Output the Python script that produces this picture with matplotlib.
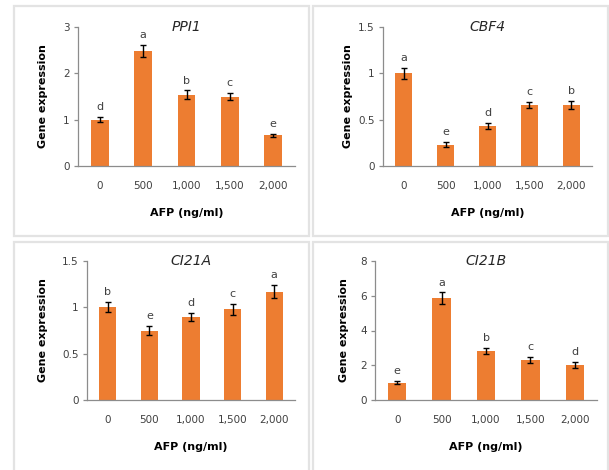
import matplotlib
matplotlib.use("Agg")
import matplotlib.pyplot as plt
from matplotlib.patches import Rectangle

W, H = 609, 470
categories = ["0", "500", "1,000", "1,500", "2,000"]
xlabel = "AFP (ng/ml)"
ylabel = "Gene expression"

titles = ["PPI1", "CBF4", "CI21A", "CI21B"]
values = {
    "PPI1": [1.00, 2.48, 1.54, 1.50, 0.66],
    "CBF4": [1.00, 0.23, 0.43, 0.66, 0.66],
    "CI21A": [1.00, 0.75, 0.90, 0.98, 1.17],
    "CI21B": [1.00, 5.85, 2.84, 2.28, 2.02],
}
errors = {
    "PPI1": [0.06, 0.13, 0.09, 0.08, 0.03],
    "CBF4": [0.06, 0.027, 0.03, 0.036, 0.04],
    "CI21A": [0.054, 0.045, 0.043, 0.06, 0.07],
    "CI21B": [0.08, 0.34, 0.18, 0.17, 0.17],
}
letters = {
    "PPI1": ["d", "a", "b", "c", "e"],
    "CBF4": ["a", "e", "d", "c", "b"],
    "CI21A": ["b", "e", "d", "c", "a"],
    "CI21B": ["e", "a", "b", "c", "d"],
}
yticks = {
    "PPI1": [0, 1, 2, 3],
    "CBF4": [0, 0.5, 1, 1.5],
    "CI21A": [0, 0.5, 1, 1.5],
    "CI21B": [0, 2, 4, 6, 8],
}
ytick_labels = {
    "PPI1": ["0", "1", "2", "3"],
    "CBF4": ["0", "0.5", "1", "1.5"],
    "CI21A": ["0", "0.5", "1", "1.5"],
    "CI21B": ["0", "2", "4", "6", "8"],
}

# axes boxes in pixels: left, right, top, bottom
axes_px = {
    "PPI1": (78, 295, 27, 166),
    "CBF4": (383, 592, 27, 166),
    "CI21A": (87, 295, 261, 400),
    "CI21B": (375, 597, 261, 400),
}
ylabel_x = {"PPI1": 43, "CBF4": 348, "CI21A": 43, "CI21B": 344}
# panel borders: left, right, top, bottom
panels_px = [(14, 309, 6, 236), (313, 608, 6, 236), (14, 309, 242, 472), (313, 608, 242, 472)]

bar_color = "#ED7D31"
axis_color = "#8C8C8C"
text_color = "#404040"
font = "DejaVu Sans"

fig = plt.figure(figsize=(W / 100, H / 100), dpi=100)
fig.patch.set_facecolor("white")

for (l, r, t, b) in panels_px:
    fig.add_artist(Rectangle((l / W, 1 - b / H), (r - l) / W, (b - t) / H,
                             transform=fig.transFigure, fill=False,
                             edgecolor="#E3E3E3", linewidth=1.6, clip_on=False))

for name in titles:
    l, r, t, b = axes_px[name]
    ax = fig.add_axes([l / W, 1 - b / H, (r - l) / W, (b - t) / H])
    x = list(range(len(categories)))
    vals = values[name]
    errs = errors[name]
    ax.bar(x, vals, width=0.41, color=bar_color, zorder=2)
    ax.errorbar(x, vals, yerr=errs, fmt="none", ecolor="black", elinewidth=1,
                capsize=2.2, capthick=1, zorder=3)
    for xi, v, e, lt in zip(x, vals, errs, letters[name]):
        ax.annotate(lt, (xi, v + e), xytext=(0, 5), textcoords="offset points",
                    ha="center", va="baseline", fontsize=8, color=text_color,
                    family=font)
    ax.set_xlim(-0.5, len(categories) - 0.5)
    ax.set_ylim(yticks[name][0], yticks[name][-1])
    ax.set_yticks(yticks[name])
    ax.set_yticklabels(ytick_labels[name], fontsize=7.5, color=text_color, family=font)
    ax.set_xticks(x)
    ax.set_xticklabels(categories, fontsize=7.5, color=text_color, family=font)
    ax.tick_params(axis="x", length=0, pad=11)
    ax.tick_params(axis="y", length=3, width=0.9, color=axis_color, pad=3)
    for s in ["top", "right"]:
        ax.spines[s].set_visible(False)
    for s in ["left", "bottom"]:
        ax.spines[s].set_color(axis_color)
        ax.spines[s].set_linewidth(0.9)
    ax.set_facecolor("none")
    ax.set_xlabel(xlabel, fontsize=8, fontweight="bold", color="black",
                  family=font, labelpad=12)
    ax.text(0.5, 1.0, name, transform=ax.transAxes, ha="center", va="center",
            fontsize=10, fontstyle="italic", color="#262626", family=font)
    fig.text(ylabel_x[name] / W, 1 - ((t + b) / 2) / H, ylabel, rotation=90,
             ha="center", va="center", fontsize=8, fontweight="bold",
             color="black", family=font)

fig.savefig("out.png", dpi=100, facecolor="white")
